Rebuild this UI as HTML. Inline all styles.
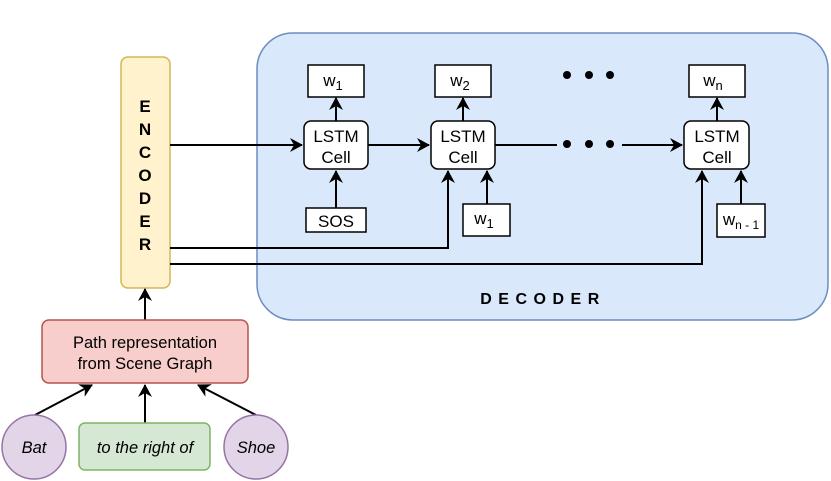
<!DOCTYPE html>
<html><head><style>body{margin:0;background:#fff}svg{display:block}</style></head><body>
<svg width="831" height="481" viewBox="0 0 831 481" xmlns="http://www.w3.org/2000/svg" font-family="Liberation Sans, sans-serif">
<defs><marker id="a" markerWidth="14" markerHeight="14" refX="12" refY="7" orient="auto" markerUnits="userSpaceOnUse"><path d="M0,0 L13,7 L0,14 L4,7 z" fill="#000"/></marker></defs>
<rect x="257" y="33" width="571" height="287" rx="36" fill="#dae8fc" stroke="#6c8ebf" stroke-width="1.5"/>
<text x="543" y="304" font-size="16" font-weight="bold" text-anchor="middle" letter-spacing="6.5">DECODER</text>
<rect x="121" y="57" width="49" height="231" rx="7" fill="#fff2cc" stroke="#d6b656" stroke-width="1.5"/>
<g font-size="17" font-weight="bold" text-anchor="middle">
<text x="145" y="112">E</text><text x="145" y="135">N</text><text x="145" y="158">C</text><text x="145" y="181">O</text><text x="145" y="204">D</text><text x="145" y="227">E</text><text x="145" y="250">R</text></g>
<g fill="none" stroke="#000" stroke-width="2">
<path d="M170,145 H302" marker-end="url(#a)"/>
<path d="M368,145 H429" marker-end="url(#a)"/>
<path d="M495,145 H557"/><path d="M622,145 H682" marker-end="url(#a)"/>
<path d="M170,248 H448 V171" marker-end="url(#a)"/>
<path d="M170,264 H702 V171" marker-end="url(#a)"/>
<path d="M336,208 V171" marker-end="url(#a)"/>
<path d="M487,204 V171" marker-end="url(#a)"/>
<path d="M741,204 V171" marker-end="url(#a)"/>
<path d="M336,121 V98" marker-end="url(#a)"/>
<path d="M463,121 V98" marker-end="url(#a)"/>
<path d="M717,121 V98" marker-end="url(#a)"/>
<path d="M145,320 V289" marker-end="url(#a)"/>
<path d="M145,423 V385" marker-end="url(#a)"/>
<path d="M35,415 L92,385" marker-end="url(#a)"/>
<path d="M256,415 L198,385" marker-end="url(#a)"/>
</g>
<g fill="#000"><circle cx="567" cy="75" r="4"/><circle cx="589" cy="75" r="4"/><circle cx="610" cy="75" r="4"/>
<circle cx="567" cy="144" r="4"/><circle cx="589" cy="144" r="4"/><circle cx="610" cy="144" r="4"/></g>
<g fill="#fff" stroke="#000" stroke-width="1.5">
<rect x="304" y="121" width="64" height="48" rx="7"/><rect x="431" y="121" width="64" height="48" rx="7"/><rect x="684" y="121" width="65" height="48" rx="7"/>
<rect x="308" y="65" width="56" height="32"/><rect x="435" y="65" width="56" height="32"/><rect x="689" y="65" width="56" height="32"/>
<rect x="306" y="208" width="60" height="24"/><rect x="463" y="204" width="47" height="32"/><rect x="717" y="204" width="48" height="33"/>
</g>
<g font-size="17" text-anchor="middle">
<text x="336" y="142">LSTM</text><text x="336" y="163">Cell</text>
<text x="463" y="142">LSTM</text><text x="463" y="163">Cell</text>
<text x="717" y="142">LSTM</text><text x="717" y="163">Cell</text>
<text x="336" y="227">SOS</text>
<text x="333" y="86">w<tspan font-size="13" dy="4">1</tspan></text>
<text x="460" y="86">w<tspan font-size="13" dy="4">2</tspan></text>
<text x="713" y="86">w<tspan font-size="13" dy="4">n</tspan></text>
<text x="484" y="224">w<tspan font-size="13" dy="4">1</tspan></text>
<text x="741" y="225">w<tspan font-size="12" dy="4">n - 1</tspan></text>
</g>
<rect x="42" y="320" width="206" height="63" rx="7" fill="#f8cecc" stroke="#b85450" stroke-width="1.5"/>
<text x="145" y="348" font-size="16.5" text-anchor="middle">Path representation</text>
<text x="145" y="369" font-size="16.5" text-anchor="middle">from Scene Graph</text>
<circle cx="34" cy="447" r="32" fill="#e1d5e7" stroke="#9673a6" stroke-width="1.5"/>
<circle cx="256" cy="447" r="32" fill="#e1d5e7" stroke="#9673a6" stroke-width="1.5"/>
<rect x="79" y="423" width="131" height="47" rx="6" fill="#d5e8d4" stroke="#82b366" stroke-width="1.5"/>
<g font-size="16.5" font-style="italic" text-anchor="middle">
<text x="34" y="453">Bat</text><text x="145" y="453">to the right of</text><text x="256" y="453">Shoe</text></g>
</svg>
</body></html>
